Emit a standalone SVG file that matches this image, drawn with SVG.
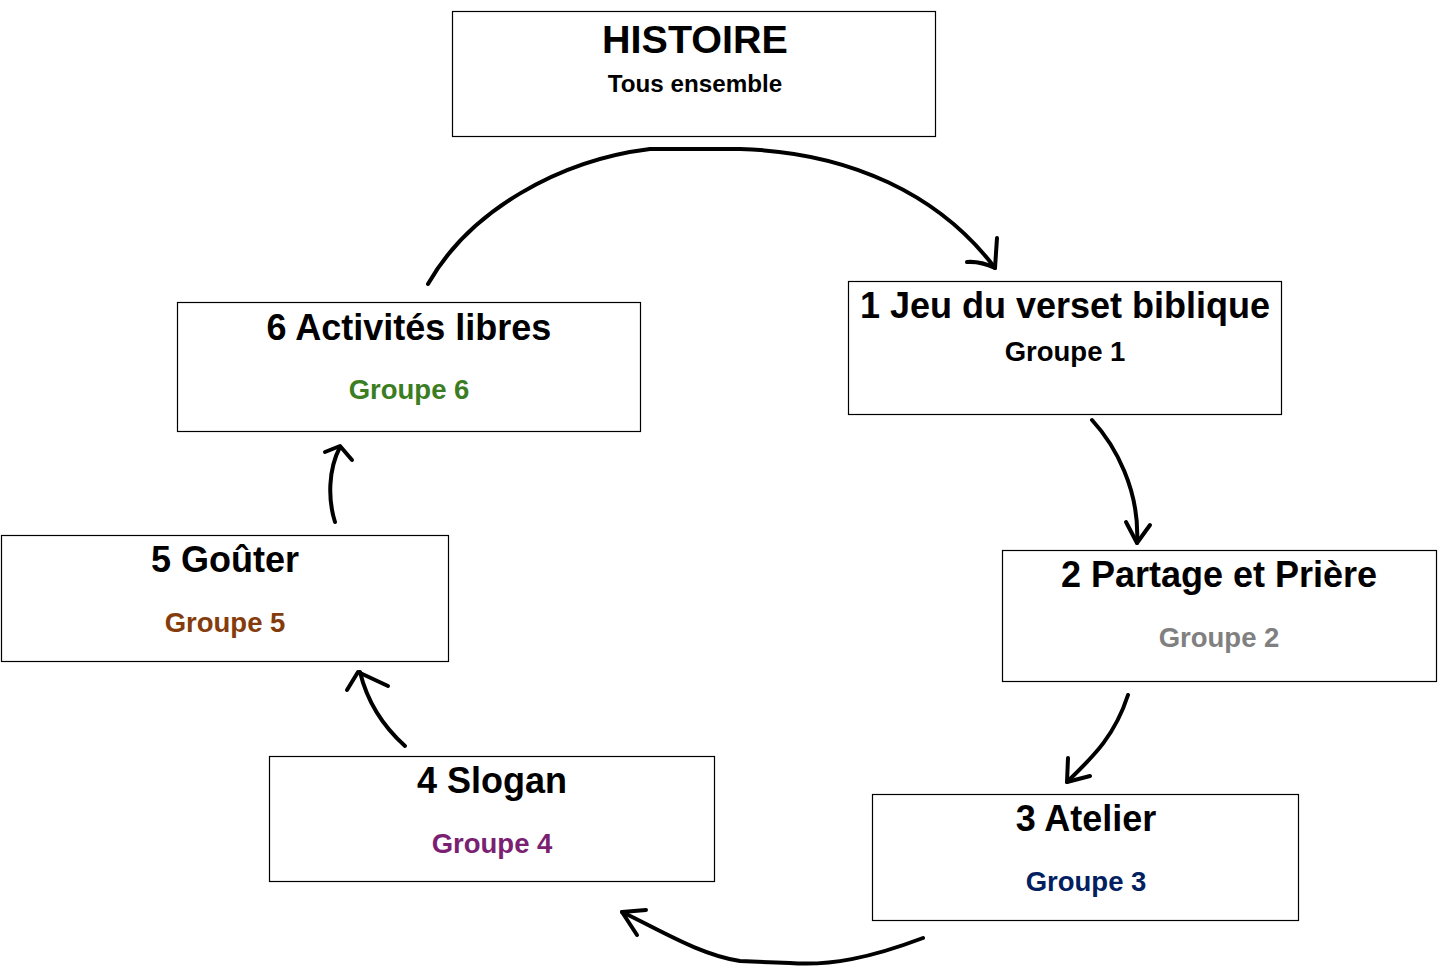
<svg xmlns="http://www.w3.org/2000/svg" width="1447" height="976" viewBox="0 0 1447 976">
<style>
.box{fill:#fff;stroke:#000;stroke-width:1.2}
.t{font-family:"Liberation Sans",Arial,sans-serif;font-weight:bold;text-anchor:middle}
.title{font-size:36px;fill:#000}
.grp{font-size:27.5px}
.arr{fill:none;stroke:#000;stroke-width:4;stroke-linecap:round;stroke-linejoin:round}
</style>
<rect width="1447" height="976" fill="#fff"/>
<g id="histoire">
<rect class="box" x="452.5" y="11.5" width="483" height="125"/>
<text class="t" x="695" y="53" font-size="39.5">HISTOIRE</text>
<text class="t" x="695" y="92" font-size="24.2">Tous ensemble</text>
</g>
<g id="n1">
<rect class="box" x="848.5" y="281.5" width="433" height="133"/>
<text class="t title" x="1065" y="318">1 Jeu du verset biblique</text>
<text class="t grp" x="1065" y="361" fill="#000">Groupe 1</text>
</g>
<g id="n2">
<rect class="box" x="1002.5" y="550.5" width="434" height="131"/>
<text class="t title" x="1219" y="587">2 Partage et Prière</text>
<text class="t grp" x="1219" y="647" fill="#808080">Groupe 2</text>
</g>
<g id="n3">
<rect class="box" x="872.5" y="794.5" width="426" height="126"/>
<text class="t title" x="1086" y="831">3 Atelier</text>
<text class="t grp" x="1086" y="891" fill="#002060">Groupe 3</text>
</g>
<g id="n4">
<rect class="box" x="269.5" y="756.5" width="445" height="125"/>
<text class="t title" x="492" y="793">4 Slogan</text>
<text class="t grp" x="492" y="853" fill="#7B1F72">Groupe 4</text>
</g>
<g id="n5">
<rect class="box" x="1.5" y="535.5" width="447" height="126"/>
<text class="t title" x="225" y="572">5 Goûter</text>
<text class="t grp" x="225" y="632" fill="#843C0C">Groupe 5</text>
</g>
<g id="n6">
<rect class="box" x="177.5" y="302.5" width="463" height="129"/>
<text class="t title" x="409" y="340">6 Activités libres</text>
<text class="t grp" x="409" y="399" fill="#3A7D22">Groupe 6</text>
</g>
<g id="connectors">
<path class="arr" d="M428,284 C470,210 560,160 650,149 L740,149 C850,152 940,195 995,268"/>
<path class="arr" d="M997,238 L995,268 M967,262 Q980,261 995,268"/>
<path class="arr" d="M1092,420 C1115,445 1140,490 1137,543"/>
<path class="arr" d="M1126,522 L1137,543 L1150,525"/>
<path class="arr" d="M1128,695 C1115,735 1095,755 1067,782"/>
<path class="arr" d="M1068,758 L1067,782 L1090,776"/>
<path class="arr" d="M923,938 C870,958 830,966 790,963 L740,961 C700,955 660,930 622,912"/>
<path class="arr" d="M646,910 L622,912 L637,935"/>
<path class="arr" d="M405,746 C385,728 368,705 360,672"/>
<path class="arr" d="M347,690 L358,672 L388,686"/>
<path class="arr" d="M335,522 C328,500 328,470 340,447"/>
<path class="arr" d="M325,452 L340,446 L352,460"/>
</g>
</svg>
